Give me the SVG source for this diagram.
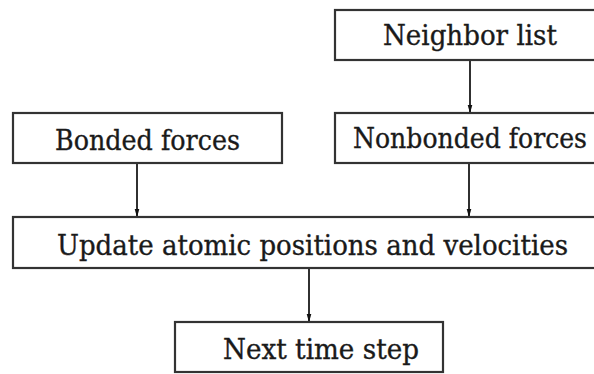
<svg xmlns="http://www.w3.org/2000/svg" width="594" height="374" viewBox="0 0 594 374">
  <style>
    .box { fill: #ffffff; stroke: #333333; stroke-width: 2.2; }
    .label { font-family: "DejaVu Serif", "Liberation Serif", serif; font-size: 27px; fill: #1a1a1a; stroke: #1a1a1a; stroke-width: 0.35; }
    .edge { stroke: #1a1a1a; stroke-width: 1.8; fill: none; marker-end: url(#arrow); }
  </style>
  <defs>
    <marker id="arrow" markerUnits="userSpaceOnUse" markerWidth="9" markerHeight="15" refX="14" refY="4.5" orient="auto" viewBox="0 0 15 9">
      <path d="M0,0.5 L15,4.5 L0,8.5 Z" fill="#111111"/>
    </marker>
  </defs>
  <rect width="594" height="374" fill="#ffffff"/>

  <g id="connectors">
    <line class="edge" x1="470" y1="60" x2="470" y2="113"/>
    <line class="edge" x1="137" y1="163" x2="137" y2="217"/>
    <line class="edge" x1="469" y1="163" x2="469" y2="217"/>
    <line class="edge" x1="309" y1="268" x2="309" y2="322"/>
  </g>

  <g id="neighbor-list">
    <rect class="box" x="335" y="10" width="270" height="50"/>
    <text class="label" x="383" y="45" textLength="174" lengthAdjust="spacingAndGlyphs">Neighbor list</text>
  </g>

  <g id="bonded-forces">
    <rect class="box" x="13" y="113" width="269" height="50"/>
    <text class="label" x="55" y="150" textLength="185" lengthAdjust="spacingAndGlyphs">Bonded forces</text>
  </g>

  <g id="nonbonded-forces">
    <rect class="box" x="335" y="113" width="270" height="50"/>
    <text class="label" x="353" y="148" textLength="234" lengthAdjust="spacingAndGlyphs">Nonbonded forces</text>
  </g>

  <g id="update-positions">
    <rect class="box" x="13" y="217" width="592" height="51"/>
    <text class="label" x="57" y="255" textLength="511" lengthAdjust="spacingAndGlyphs">Update atomic positions and velocities</text>
  </g>

  <g id="next-time-step">
    <rect class="box" x="175" y="322" width="268" height="50"/>
    <text class="label" x="223" y="359" textLength="196" lengthAdjust="spacingAndGlyphs">Next time step</text>
  </g>
</svg>
